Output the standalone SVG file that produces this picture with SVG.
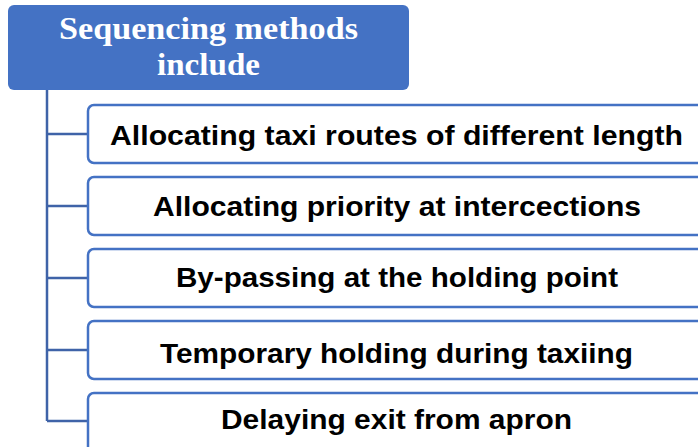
<svg xmlns="http://www.w3.org/2000/svg" width="698" height="447" viewBox="0 0 698 447">
<style>
.item rect{fill:#ffffff;stroke:#4472C4;stroke-width:2.5}
.item text{font-family:"Liberation Sans",Arial,sans-serif;font-weight:bold;font-size:27px;fill:#000000;text-anchor:middle}
.conn{fill:none;stroke:#3F63A8;stroke-width:2.5}
.title text{font-family:"Liberation Serif","Times New Roman",serif;font-weight:bold;font-size:32px;fill:#ffffff;text-anchor:middle}
</style>
<rect width="698" height="447" fill="#ffffff"/>
<g id="root" class="title">
<rect x="8" y="5" width="401" height="85" rx="6" fill="#4472C4"/>
<text x="208.5" y="39" textLength="299" lengthAdjust="spacingAndGlyphs">Sequencing methods</text>
<text x="208.5" y="75" textLength="103" lengthAdjust="spacingAndGlyphs">include</text>
</g>
<g id="connectors" class="conn">
<path d="M47 90 V421"/>
<path d="M47 134 H88"/>
<path d="M47 206 H88"/>
<path d="M47 278 H88"/>
<path d="M47 350 H88"/>
<path d="M47 421 H88"/>
</g>
<g id="n1" class="item">
<rect x="88" y="105" width="630" height="58" rx="6"/>
<text x="396.5" y="145" textLength="573" lengthAdjust="spacingAndGlyphs">Allocating taxi routes of different length</text>
</g>
<g id="n2" class="item">
<rect x="88" y="177" width="630" height="58" rx="6"/>
<text x="397" y="216" textLength="488" lengthAdjust="spacingAndGlyphs">Allocating priority at intercections</text>
</g>
<g id="n3" class="item">
<rect x="88" y="249" width="630" height="58" rx="6"/>
<text x="397" y="287" textLength="442" lengthAdjust="spacingAndGlyphs">By-passing at the holding point</text>
</g>
<g id="n4" class="item">
<rect x="88" y="321" width="630" height="58" rx="6"/>
<text x="396.5" y="363" textLength="473" lengthAdjust="spacingAndGlyphs">Temporary holding during taxiing</text>
</g>
<g id="n5" class="item">
<rect x="88" y="393" width="630" height="70" rx="6"/>
<text x="396.5" y="429" textLength="351" lengthAdjust="spacingAndGlyphs">Delaying exit from apron</text>
</g>
</svg>
